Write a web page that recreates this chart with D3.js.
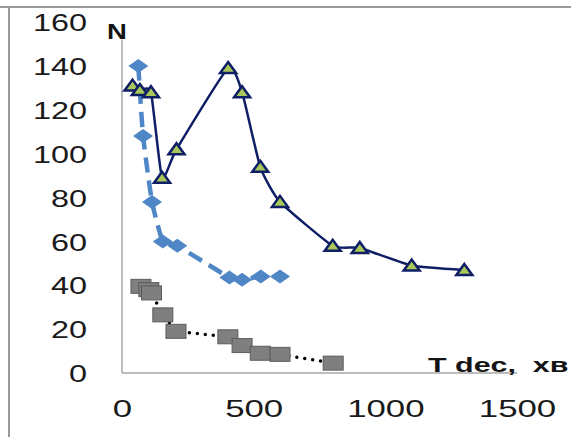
<!DOCTYPE html>
<html>
<head>
<meta charset="utf-8">
<script src="https://cdn.jsdelivr.net/npm/d3@7"></script>
<style>
  html, body { margin: 0; padding: 0; background: #fff; }
  svg { display: block; font-family: "Liberation Sans", Arial, sans-serif; }
</style>
</head>
<body>
<svg id="chart" width="571" height="437"></svg>
<script>
// Decay time (min) vs N for three series
const triT = [40, 68, 110, 152, 207, 403, 456, 525, 600, 800, 903, 1100, 1300];
const triN = [131, 129, 128, 89, 102, 139, 128, 94, 78, 58, 57, 49, 47];

const diaT = [62, 80, 114, 155, 210, 408, 456, 527, 600];
const diaN = [140, 108, 78, 60, 58, 43.5, 42.5, 44, 44];

const sqT = [72, 102, 112, 155, 205, 402, 456, 525, 600, 802];
const sqN = [39.5, 38, 36.5, 26.5, 19, 16.5, 12.5, 9, 8.5, 4.5];

const yTicks = [0, 20, 40, 60, 80, 100, 120, 140, 160];
const xTicks = [0, 500, 1000, 1500];

const svg = d3.select("#chart");
svg.append("rect").attr("width", 571).attr("height", 437).attr("fill", "#fff");

// outer frame edges
svg.append("line").attr("x1", 0).attr("x2", 571).attr("y1", 7).attr("y2", 7)
  .attr("stroke", "#9a9a9a").attr("stroke-width", 2);
svg.append("line").attr("x1", 9).attr("x2", 9).attr("y1", 7).attr("y2", 437)
  .attr("stroke", "#9a9a9a").attr("stroke-width", 2);

const x = d3.scaleLinear().domain([0, 1500]).range([122, 517]);
const y = d3.scaleLinear().domain([0, 160]).range([373, 22]);

// axis lines
svg.append("line").attr("x1", x(0)).attr("x2", x(0)).attr("y1", y(0)).attr("y2", y(152))
  .attr("stroke", "#a6a6a6").attr("stroke-width", 1.5);
svg.append("line").attr("x1", x(0)).attr("x2", x(1500)).attr("y1", y(0)).attr("y2", y(0))
  .attr("stroke", "#a6a6a6").attr("stroke-width", 1.5);

// tick labels (wide, stretched text)
const yAxis = svg.append("g").attr("transform", "translate(87,0)")
  .call(d3.axisLeft(y).tickValues(yTicks).tickSize(0).tickPadding(0).tickFormat(d3.format("d")));
yAxis.select(".domain").remove();
yAxis.selectAll("text")
  .attr("x", 0).attr("dy", "0.36em")
  .attr("font-size", 24).attr("fill", "#1a1a1a")
  .attr("font-family", "Liberation Sans, Arial, sans-serif")
  .attr("transform", "scale(1.35,1)")
  .attr("text-anchor", "end");

const xAxis = svg.append("g").attr("transform", "translate(0,400)")
  .call(d3.axisBottom(x).tickValues(xTicks).tickSize(0).tickPadding(0).tickFormat(d3.format("d")));
xAxis.select(".domain").remove();
xAxis.selectAll("text")
  .attr("y", 0).attr("dy", "0.71em")
  .attr("font-size", 24).attr("fill", "#1a1a1a")
  .attr("font-family", "Liberation Sans, Arial, sans-serif")
  .attr("transform", "scale(1.45,1)")
  .attr("text-anchor", "middle");

// axis titles
svg.append("text").attr("transform", "translate(117,39) scale(1.25,1)")
  .attr("text-anchor", "middle").attr("font-size", 22).attr("font-weight", "bold")
  .attr("fill", "#141414").text("N");
svg.append("text").attr("transform", "translate(428,372) scale(1.45,1)")
  .attr("font-size", 21).attr("font-weight", "bold").attr("fill", "#141414")
  .style("white-space", "pre").text("T dec,  хв");

const smooth = d3.line().x(d => x(d[0])).y(d => y(d[1])).curve(d3.curveCardinal.tension(0.5));
const straight = d3.line().x(d => x(d[0])).y(d => y(d[1]));

// square series: dotted black line
const sq = sqT.map((t, i) => [t, sqN[i]]);
svg.append("path").attr("d", straight(sq)).attr("fill", "none")
  .attr("stroke", "#000").attr("stroke-width", 3.5).attr("stroke-linecap", "round")
  .attr("stroke-dasharray", "0,8");
svg.append("g").selectAll("rect").data(sq).join("rect")
  .attr("x", d => x(d[0]) - 10).attr("y", d => y(d[1]) - 7)
  .attr("width", 20).attr("height", 14)
  .attr("fill", "#7f7f7f").attr("stroke", "#5c5c5c").attr("stroke-width", 1);

// diamond series: dashed light-blue line
const dia = diaT.map((t, i) => [t, diaN[i]]);
svg.append("path").attr("d", smooth(dia)).attr("fill", "none")
  .attr("stroke", "#4f86c6").attr("stroke-width", 4.5)
  .attr("stroke-dasharray", "15,8");
svg.append("g").selectAll("path").data(dia).join("path")
  .attr("transform", d => `translate(${x(d[0])},${y(d[1])})`)
  .attr("d", "M0,-7L10,0L0,7L-10,0Z")
  .attr("fill", "#4f86c6");

// triangle series: solid navy line
const tri = triT.map((t, i) => [t, triN[i]]);
svg.append("path").attr("d", smooth(tri)).attr("fill", "none")
  .attr("stroke", "#0f1f66").attr("stroke-width", 2.5);
svg.append("g").selectAll("path").data(tri).join("path")
  .attr("transform", d => `translate(${x(d[0])},${y(d[1])})`)
  .attr("d", "M0,-6L8,5L-8,5Z")
  .attr("fill", "#a9c75a").attr("stroke", "#0f1f66").attr("stroke-width", 2.5)
  .attr("stroke-linejoin", "miter");
</script>
</body>
</html>
